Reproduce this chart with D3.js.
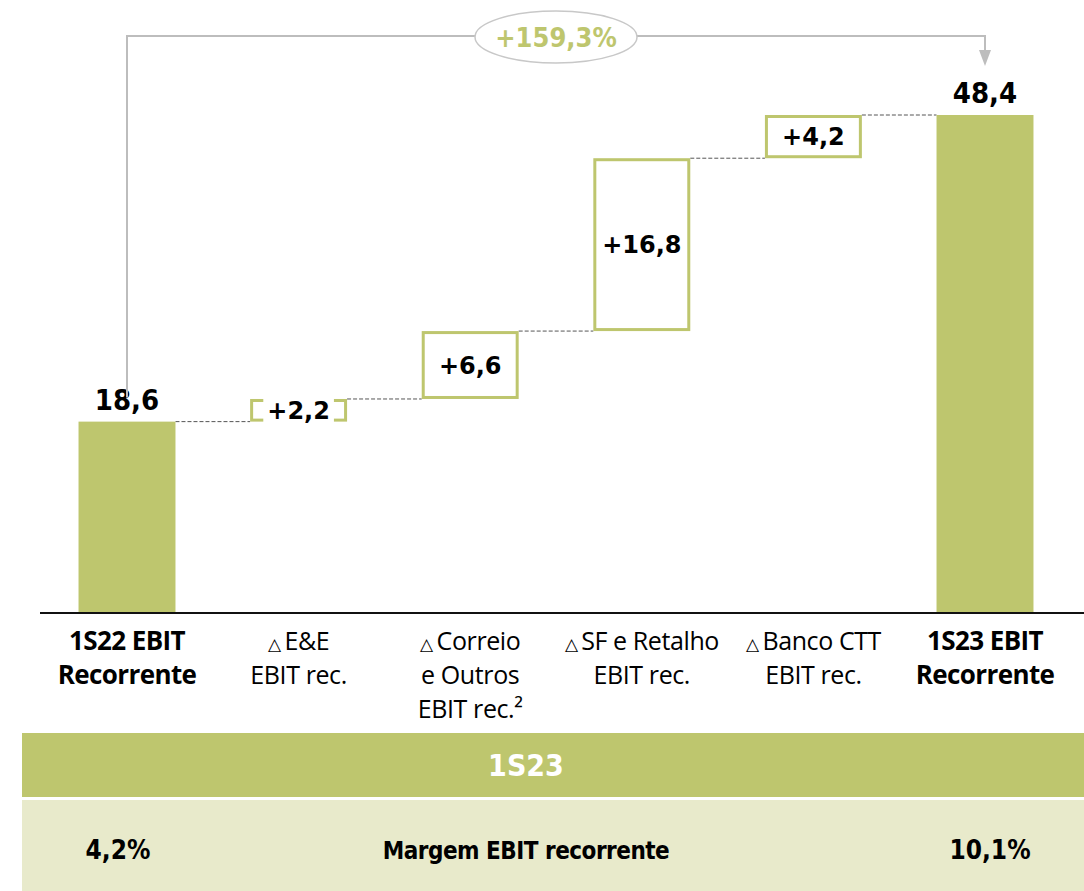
<!DOCTYPE html>
<html>
<head>
<meta charset="utf-8">
<script src="https://cdn.jsdelivr.net/npm/d3@7"></script>
<style>
  body { margin: 0; background: #fff; }
  svg { display: block; }
  .narrow { font-family: "Liberation Sans Narrow", "DejaVu Sans Condensed", sans-serif; font-weight: bold; }
  .cat { font-family: "Open Sans", "Noto Sans", sans-serif; }
</style>
</head>
<body>
<div id="chart"></div>
<script>
// waterfall data
var categories = ["start", "ee", "correio", "sf", "banco", "end"];
var catLines = [
  ["1S22 EBIT", "Recorrente"],
  ["\u25B3 E&E", "EBIT rec."],
  ["\u25B3 Correio", "e Outros", "EBIT rec.\u00B2"],
  ["\u25B3 SF e Retalho", "EBIT rec."],
  ["\u25B3 Banco CTT", "EBIT rec."],
  ["1S23 EBIT", "Recorrente"]
];
var values = [18.6, 2.2, 6.6, 16.8, 4.2, 48.4];
var valueLabels = ["18,6", "+2,2", "+6,6", "+16,8", "+4,2", "48,4"];
var growthLabel = "+159,3%";
var marginTitle = "1S23";
var marginLabel = "Margem EBIT recorrente";
var marginValues = ["4,2%", "10,1%"];

var green = "#bec66e", lightGreen = "#e8eacb", grey = "#bdbdbd";
var width = 1084, height = 891;

var svg = d3.select("#chart").append("svg")
  .attr("width", width).attr("height", height);

var x = d3.scaleBand().domain(categories)
  .range([41.2, 1070.8]).paddingInner(0.435).paddingOuter(0.2175);
var y = d3.scaleLinear().domain([0, 48.4]).range([613, 115]);

// running totals
var steps = [];
var run = 0;
values.forEach(function(v, i) {
  var total = (i == 0 || i == values.length - 1);
  var lo = total ? 0 : run;
  var hi = total ? v : run + v;
  if (!total) run += v; else run = v;
  steps.push({ key: categories[i], lo: lo, hi: hi, total: total, label: valueLabels[i] });
});

// connectors
for (var i = 0; i < steps.length - 1; i++) {
  var a = steps[i], b = steps[i + 1];
  svg.append("line")
    .attr("x1", x(a.key) + x.bandwidth()).attr("x2", x(b.key))
    .attr("y1", y(a.hi)).attr("y2", y(a.hi))
    .attr("stroke", "#555").attr("stroke-width", 1).attr("stroke-dasharray", "4,2");
}

// bars
svg.selectAll("rect.bar").data(steps).enter().append("rect")
  .attr("class", "bar")
  .attr("x", function(d) { return d.total ? x(d.key) : x(d.key) + 1.5; })
  .attr("width", function(d) { return d.total ? x.bandwidth() : x.bandwidth() - 3; })
  .attr("y", function(d) { return d.total ? y(d.hi) : y(d.hi) + 1.5; })
  .attr("height", function(d) { return d.total ? y(d.lo) - y(d.hi) : y(d.lo) - y(d.hi) - 3; })
  .attr("fill", function(d) { return d.total ? green : "#fff"; })
  .attr("stroke", function(d) { return d.total ? "none" : green; })
  .attr("stroke-width", 3);

// axis line
svg.append("line").attr("x1", 40).attr("x2", width).attr("y1", 613).attr("y2", 613)
  .attr("stroke", "#111").attr("stroke-width", 2);

// value labels
steps.forEach(function(d) {
  var cx = x(d.key) + x.bandwidth() / 2;
  if (d.total) {
    svg.append("text").attr("class", "narrow")
      .attr("x", cx).attr("y", y(d.hi) - 12)
      .attr("text-anchor", "middle").attr("font-size", 29)
      .text(d.label);
  } else {
    var cy = (y(d.lo) + y(d.hi)) / 2;
    var t = svg.append("text")
      .attr("x", cx).attr("y", cy).attr("dy", "0.36em")
      .attr("text-anchor", "middle")
      .attr("font-family", "'DejaVu Sans', Verdana, sans-serif")
      .attr("font-weight", "bold").attr("font-size", 24)
      .text(d.label);
    var bb = t.node().getBBox();
    // small step: white backing makes the box look like brackets
    if (bb.height > y(d.lo) - y(d.hi) - 4) {
      svg.insert("rect", function() { return t.node(); })
        .attr("x", bb.x - 4).attr("width", bb.width + 8)
        .attr("y", y(d.hi) - 3).attr("height", y(d.lo) - y(d.hi) + 6)
        .attr("fill", "#fff");
    }
  }
});

// category labels
categories.forEach(function(c, i) {
  var bold = (i == 0 || i == categories.length - 1);
  var t = svg.append("text").attr("class", "cat")
    .attr("x", x(c) + x.bandwidth() / 2).attr("y", 650)
    .attr("text-anchor", "middle")
    .attr("font-size", bold ? 26 : 25)
    .attr("font-weight", bold ? "bold" : "normal")
    .attr("letter-spacing", bold ? "-0.6" : "-0.4");
  catLines[i].forEach(function(l, j) {
    var ts = t.append("tspan").attr("x", x(c) + x.bandwidth() / 2).attr("dy", j == 0 ? 0 : 34);
    if (l.charAt(0) == "\u25B3") {
      ts.append("tspan").attr("font-size", 17).text("\u25B3 ");
      ts.append("tspan").text(l.slice(2));
    } else {
      ts.text(l);
    }
  });
});

// growth arrow
var x0 = x("start") + x.bandwidth() / 2, x1 = x("end") + x.bandwidth() / 2;
var topY = 36;
svg.append("path")
  .attr("d", "M" + x0 + "," + (y(18.6) - 24) + "V" + topY + "H" + x1 + "V" + 52)
  .attr("fill", "none").attr("stroke", grey).attr("stroke-width", 2);
svg.append("path")
  .attr("d", "M" + (x1 - 6) + ",50L" + (x1 + 6) + ",50L" + x1 + ",66Z")
  .attr("fill", grey);
svg.append("ellipse").attr("cx", 556).attr("cy", topY + 1).attr("rx", 81).attr("ry", 26)
  .attr("fill", "#fff").attr("stroke", "#c8c8c8").attr("stroke-width", 1.5);
svg.append("text").attr("class", "narrow")
  .attr("x", 556).attr("y", topY + 1).attr("dy", "0.36em")
  .attr("text-anchor", "middle").attr("font-size", 27).attr("fill", green)
  .text(growthLabel);

// margin table
svg.append("rect").attr("x", 22).attr("y", 733).attr("width", width - 22).attr("height", 64).attr("fill", green);
svg.append("text").attr("class", "narrow")
  .attr("x", 526).attr("y", 765).attr("dy", "0.36em").attr("text-anchor", "middle")
  .attr("font-size", 30).attr("fill", "#fff").text(marginTitle);
svg.append("rect").attr("x", 22).attr("y", 800).attr("width", width - 22).attr("height", 91).attr("fill", lightGreen);
svg.append("text").attr("class", "narrow")
  .attr("x", 118).attr("y", 850).attr("dy", "0.36em").attr("text-anchor", "middle")
  .attr("font-size", 26).text(marginValues[0]);
svg.append("text").attr("class", "narrow")
  .attr("x", 526).attr("y", 850).attr("dy", "0.36em").attr("text-anchor", "middle")
  .attr("font-size", 24).attr("letter-spacing", "-0.5").text(marginLabel);
svg.append("text").attr("class", "narrow")
  .attr("x", 990).attr("y", 850).attr("dy", "0.36em").attr("text-anchor", "middle")
  .attr("font-size", 26).text(marginValues[1]);
</script>
</body>
</html>
